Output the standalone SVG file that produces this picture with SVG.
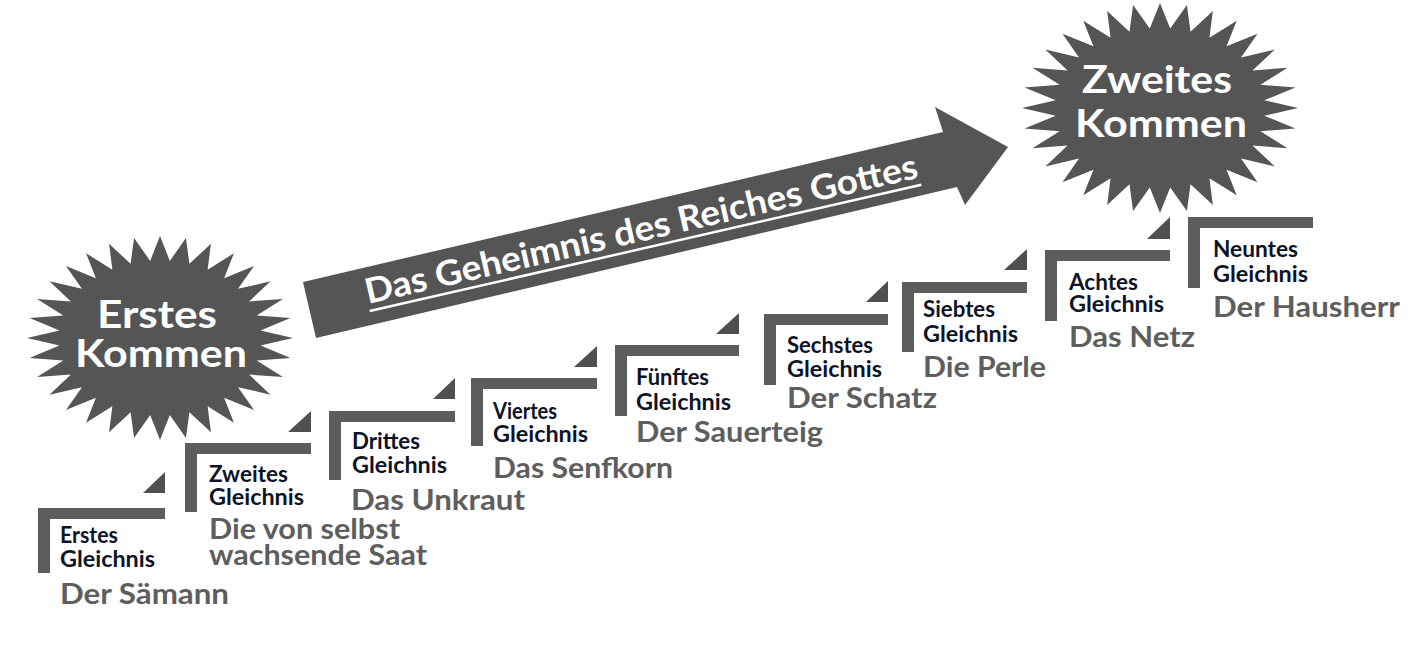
<svg xmlns="http://www.w3.org/2000/svg" xmlns:xlink="http://www.w3.org/1999/xlink" width="1419" height="652" viewBox="0 0 1419 652">
<style>
.bar{fill:#5c5c5c}
.tri{fill:#505050}
.star{fill:#555555}
.lab{font-family:Lato,"Liberation Sans",sans-serif;font-weight:700;font-size:22px;fill:#0e1328}
.ttl{font-family:Lato,"Liberation Sans",sans-serif;font-weight:700;font-size:29px;fill:#5e5e5e}
.big{font-family:Lato,"Liberation Sans",sans-serif;font-weight:700;font-size:38px;fill:#ffffff}
.arr{font-family:Lato,"Liberation Sans",sans-serif;font-weight:700;font-size:35px;fill:#ffffff}
</style>
<defs>
<polygon id="starshape" points="100,0 75.6,7.4 98.1,19.5 72.7,22.1 92.4,38.3 67,35.8 83.1,55.6 58.7,48.2 70.7,70.7 48.2,58.7 55.6,83.1 35.8,67 38.3,92.4 22.1,72.7 19.5,98.1 7.4,75.6 0,100 -7.4,75.6 -19.5,98.1 -22.1,72.7 -38.3,92.4 -35.8,67 -55.6,83.1 -48.2,58.7 -70.7,70.7 -58.7,48.2 -83.1,55.6 -67,35.8 -92.4,38.3 -72.7,22.1 -98.1,19.5 -75.6,7.4 -100,0 -75.6,-7.4 -98.1,-19.5 -72.7,-22.1 -92.4,-38.3 -67,-35.8 -83.1,-55.6 -58.7,-48.2 -70.7,-70.7 -48.2,-58.7 -55.6,-83.1 -35.8,-67 -38.3,-92.4 -22.1,-72.7 -19.5,-98.1 -7.4,-75.6 0,-100 7.4,-75.6 19.5,-98.1 22.1,-72.7 38.3,-92.4 35.8,-67 55.6,-83.1 48.2,-58.7 70.7,-70.7 58.7,-48.2 83.1,-55.6 67,-35.8 92.4,-38.3 72.7,-22.1 98.1,-19.5 75.6,-7.4"/>
</defs>
<rect width="1419" height="652" fill="#ffffff"/>

<g id="connectors">
<polygon class="star" points="303,282 943,132 935,107 1008,147 965,205 957,187 316,338"/>
<g transform="translate(368,304) rotate(-12.9)">
<text class="arr" x="0" y="0" textLength="566" lengthAdjust="spacingAndGlyphs">Das Geheimnis des Reiches Gottes</text>
<rect x="0" y="6" width="566" height="2.5" fill="#ffffff"/>
</g>
</g>

<g id="erstes-kommen">
<use xlink:href="#starshape" class="star" transform="translate(160,338) scale(1.33,1.02)"/>
<text class="big" x="97" y="328" textLength="120" lengthAdjust="spacingAndGlyphs">Erstes</text>
<text class="big" x="75" y="367" textLength="172" lengthAdjust="spacingAndGlyphs">Kommen</text>
</g>

<g id="zweites-kommen">
<use xlink:href="#starshape" class="star" transform="translate(1160,108) scale(1.38,1.05)"/>
<text class="big" x="1082" y="93" textLength="150" lengthAdjust="spacingAndGlyphs">Zweites</text>
<text class="big" x="1075" y="137" textLength="172" lengthAdjust="spacingAndGlyphs">Kommen</text>
</g>

<g id="step1">
<rect class="bar" x="38" y="508" width="127" height="11"/>
<rect class="bar" x="38" y="508" width="12" height="65"/>
<polygon class="tri" points="143,493 165,493 165,472"/>
<text class="lab" x="60" y="543" textLength="58" lengthAdjust="spacingAndGlyphs">Erstes</text>
<text class="lab" x="60" y="567" textLength="95" lengthAdjust="spacingAndGlyphs">Gleichnis</text>
<text class="ttl" x="60" y="604" textLength="169" lengthAdjust="spacingAndGlyphs">Der Sämann</text>
</g>

<g id="step2">
<rect class="bar" x="185" y="443" width="126" height="11"/>
<rect class="bar" x="185" y="443" width="12" height="69"/>
<polygon class="tri" points="288,432 311,432 311,411"/>
<text class="lab" x="209" y="482" textLength="79" lengthAdjust="spacingAndGlyphs">Zweites</text>
<text class="lab" x="209" y="505" textLength="95" lengthAdjust="spacingAndGlyphs">Gleichnis</text>
<text class="ttl" x="209" y="539" textLength="191" lengthAdjust="spacingAndGlyphs">Die von selbst</text>
<text class="ttl" x="209" y="565" textLength="218" lengthAdjust="spacingAndGlyphs">wachsende Saat</text>
</g>

<g id="step3">
<rect class="bar" x="329" y="411" width="126" height="11"/>
<rect class="bar" x="329" y="411" width="12" height="69"/>
<polygon class="tri" points="433,399 455,399 455,378"/>
<text class="lab" x="352" y="449" textLength="68" lengthAdjust="spacingAndGlyphs">Drittes</text>
<text class="lab" x="352" y="473" textLength="95" lengthAdjust="spacingAndGlyphs">Gleichnis</text>
<text class="ttl" x="351" y="510" textLength="174" lengthAdjust="spacingAndGlyphs">Das Unkraut</text>
</g>

<g id="step4">
<rect class="bar" x="471" y="378" width="126" height="11"/>
<rect class="bar" x="471" y="378" width="12" height="68"/>
<polygon class="tri" points="574,367 597,367 597,346"/>
<text class="lab" x="493" y="419" textLength="64" lengthAdjust="spacingAndGlyphs">Viertes</text>
<text class="lab" x="493" y="442" textLength="95" lengthAdjust="spacingAndGlyphs">Gleichnis</text>
<text class="ttl" x="493" y="478" textLength="180" lengthAdjust="spacingAndGlyphs">Das Senfkorn</text>
</g>

<g id="step5">
<rect class="bar" x="615" y="345" width="124" height="11"/>
<rect class="bar" x="615" y="345" width="12" height="71"/>
<polygon class="tri" points="716,334 739,334 739,313"/>
<text class="lab" x="636" y="385" textLength="73" lengthAdjust="spacingAndGlyphs">Fünftes</text>
<text class="lab" x="636" y="410" textLength="95" lengthAdjust="spacingAndGlyphs">Gleichnis</text>
<text class="ttl" x="636" y="442" textLength="187" lengthAdjust="spacingAndGlyphs">Der Sauerteig</text>
</g>

<g id="step6">
<rect class="bar" x="764" y="314" width="124" height="11"/>
<rect class="bar" x="764" y="314" width="12" height="71"/>
<polygon class="tri" points="866,302 888,302 888,281"/>
<text class="lab" x="787" y="353" textLength="86" lengthAdjust="spacingAndGlyphs">Sechstes</text>
<text class="lab" x="787" y="377" textLength="95" lengthAdjust="spacingAndGlyphs">Gleichnis</text>
<text class="ttl" x="787" y="408" textLength="150" lengthAdjust="spacingAndGlyphs">Der Schatz</text>
</g>

<g id="step7">
<rect class="bar" x="902" y="282" width="125" height="11"/>
<rect class="bar" x="902" y="282" width="12" height="70"/>
<polygon class="tri" points="1004,270 1027,270 1027,249"/>
<text class="lab" x="923" y="317" textLength="72" lengthAdjust="spacingAndGlyphs">Siebtes</text>
<text class="lab" x="923" y="342" textLength="95" lengthAdjust="spacingAndGlyphs">Gleichnis</text>
<text class="ttl" x="923" y="377" textLength="123" lengthAdjust="spacingAndGlyphs">Die Perle</text>
</g>

<g id="step8">
<rect class="bar" x="1045" y="250" width="125" height="11"/>
<rect class="bar" x="1045" y="250" width="12" height="71"/>
<polygon class="tri" points="1147,239 1170,239 1170,217"/>
<text class="lab" x="1069" y="290" textLength="69" lengthAdjust="spacingAndGlyphs">Achtes</text>
<text class="lab" x="1069" y="312" textLength="95" lengthAdjust="spacingAndGlyphs">Gleichnis</text>
<text class="ttl" x="1069" y="347" textLength="126" lengthAdjust="spacingAndGlyphs">Das Netz</text>
</g>

<g id="step9">
<rect class="bar" x="1188" y="217" width="125" height="11"/>
<rect class="bar" x="1188" y="217" width="12" height="71"/>
<text class="lab" x="1213" y="257" textLength="85" lengthAdjust="spacingAndGlyphs">Neuntes</text>
<text class="lab" x="1213" y="282" textLength="95" lengthAdjust="spacingAndGlyphs">Gleichnis</text>
<text class="ttl" x="1213" y="317" textLength="187" lengthAdjust="spacingAndGlyphs">Der Hausherr</text>
</g>
</svg>
